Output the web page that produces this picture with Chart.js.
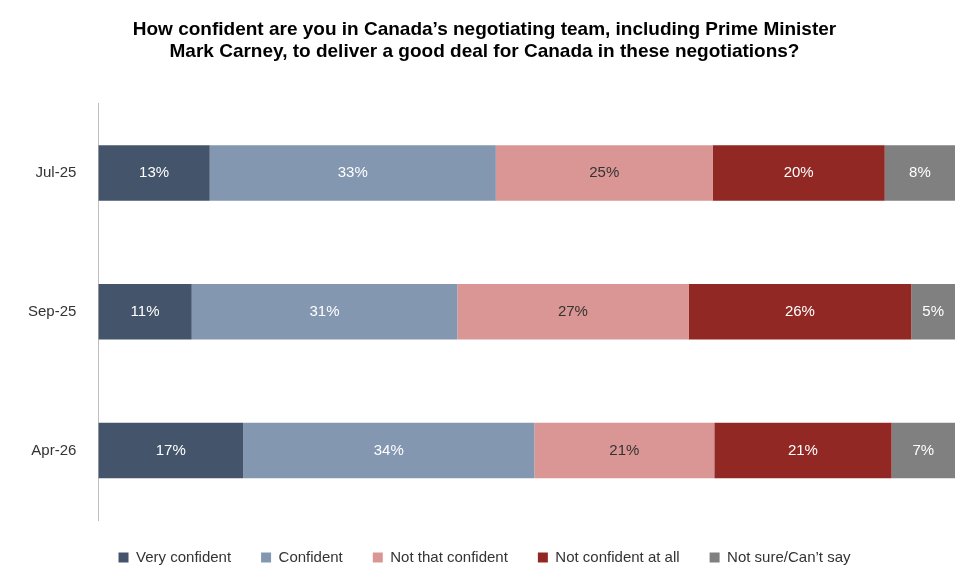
<!DOCTYPE html>
<html><head><meta charset="utf-8">
<script src="https://cdn.jsdelivr.net/npm/chart.js@4/dist/chart.umd.min.js"></script>
<style>html,body{margin:0;background:#fff}#w{width:979px;height:585px}</style>
</head><body><div id="w"><canvas id="c"></canvas></div>
<script>
const categories = ["Jul-25","Sep-25","Apr-26"];
const seriesNames = ["Very confident","Confident","Not that confident","Not confident at all","Not sure/Can\u2019t say"];
const veryConfident = [13.0,10.9,16.9];
const confident = [33.4,31.0,34.0];
const notThatConfident = [25.3,27.0,21.0];
const notConfidentAtAll = [20.1,26.0,20.7];
const notSure = [8.2,5.1,7.4];
const labelVery = ["13%","11%","17%"];
const labelConf = ["33%","31%","34%"];
const labelNotThat = ["25%","27%","21%"];
const labelNotAll = ["20%","26%","21%"];
const labelNotSure = ["8%","5%","7%"];
const colors = ["#44546a","#8497b0","#da9694","#922824","#808080"];
const textColors = ["#fff","#fff","#333","#fff","#fff"];
const values = [veryConfident,confident,notThatConfident,notConfidentAtAll,notSure];
const labels = [labelVery,labelConf,labelNotThat,labelNotAll,labelNotSure];
const F = "'Liberation Sans', Arial, sans-serif";
const lbl = {id:'lbl',afterDatasetsDraw(ch){const c=ch.ctx;c.save();c.font="15px "+F;c.textAlign='center';c.textBaseline='middle';
ch.data.datasets.forEach((d,i)=>{ch.getDatasetMeta(i).data.forEach((el,j)=>{c.fillStyle=textColors[i];c.fillText(labels[i][j],(el.x+el.base)/2,el.y);});});c.restore();}};
new Chart(document.getElementById('c'),{type:'bar',
data:{labels:categories,datasets:values.map((v,i)=>({label:seriesNames[i],data:v,backgroundColor:colors[i],barPercentage:0.4,categoryPercentage:1}))},
options:{indexAxis:'y',responsive:true,maintainAspectRatio:false,animation:false,
layout:{padding:{left:14,right:24,top:0,bottom:10}},
plugins:{title:{display:true,text:["How confident are you in Canada\u2019s negotiating team, including Prime Minister","Mark Carney, to deliver a good deal for Canada in these negotiations?"],font:{family:F,size:19,weight:'bold'},color:'#000',padding:{top:18,bottom:40},lineHeight:1.45},
legend:{position:'bottom',labels:{boxWidth:10,boxHeight:10,font:{family:F,size:15},color:'#333',padding:30},onClick:null},tooltip:{enabled:false}},
scales:{x:{stacked:true,min:0,max:100,display:false},
y:{stacked:true,grid:{display:false},border:{color:'#bfbfbf'},ticks:{font:{family:F,size:15},color:'#333',padding:14}}}},
plugins:[lbl]});
</script></body></html>
